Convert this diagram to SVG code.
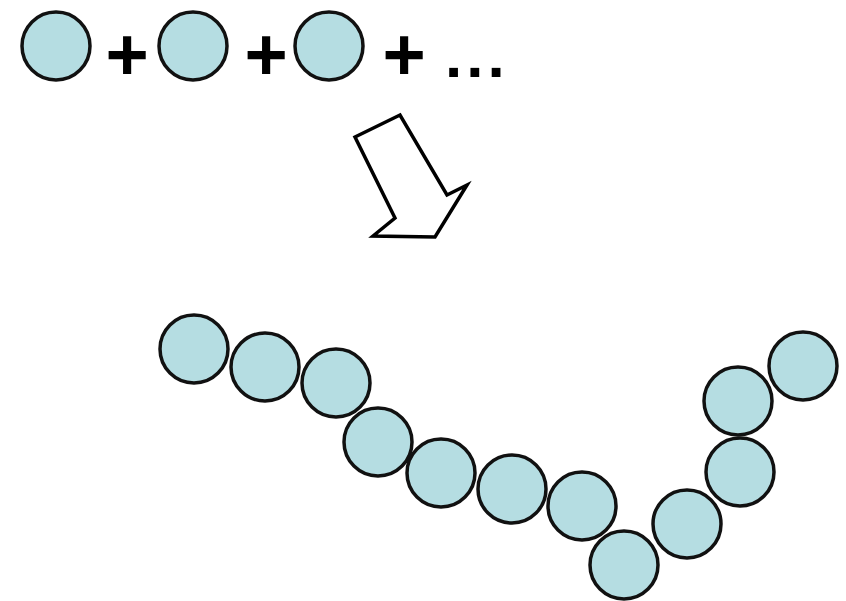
<svg xmlns="http://www.w3.org/2000/svg" width="846" height="601" viewBox="0 0 846 601">
<style>
.m{fill:#b5dde2;stroke:#111;stroke-width:3.5}
.t{font-family:"Liberation Sans",Arial,sans-serif;font-weight:bold;fill:#000}
.arr{fill:#fff;stroke:#000;stroke-width:3.5;stroke-linejoin:miter}
</style>
<rect width="846" height="601" fill="#fff"/>
<g id="monomers">
<g id="m1"><circle class="m" cx="56" cy="46" r="34"/></g>
<text class="t" x="127" y="80" font-size="74" text-anchor="middle">+</text>
<g id="m2"><circle class="m" cx="193" cy="46" r="34"/></g>
<text class="t" x="266" y="80" font-size="74" text-anchor="middle">+</text>
<g id="m3"><circle class="m" cx="329" cy="46" r="34"/></g>
<text class="t" x="404" y="80" font-size="74" text-anchor="middle">+</text>
<text class="t" x="445" y="77" font-size="62" letter-spacing="4">...</text>
</g>
<g id="arrow">
<polygon class="arr" points="400,115 355,137 395,218 373,236 435,237 467,185 447,195"/>
</g>
<g id="polymer">
<g id="p1"><circle class="m" cx="194" cy="349" r="34"/></g>
<g id="p2"><circle class="m" cx="265" cy="367" r="34"/></g>
<g id="p3"><circle class="m" cx="336" cy="383" r="34"/></g>
<g id="p4"><circle class="m" cx="378" cy="442" r="34"/></g>
<g id="p5"><circle class="m" cx="441" cy="473" r="34"/></g>
<g id="p6"><circle class="m" cx="512" cy="489" r="34"/></g>
<g id="p7"><circle class="m" cx="582" cy="506" r="34"/></g>
<g id="p8"><circle class="m" cx="624" cy="565" r="34"/></g>
<g id="p9"><circle class="m" cx="687" cy="524" r="34"/></g>
<g id="p10"><circle class="m" cx="740" cy="472" r="34"/></g>
<g id="p11"><circle class="m" cx="738" cy="401" r="34"/></g>
<g id="p12"><circle class="m" cx="803" cy="366" r="34"/></g>
</g>
</svg>
